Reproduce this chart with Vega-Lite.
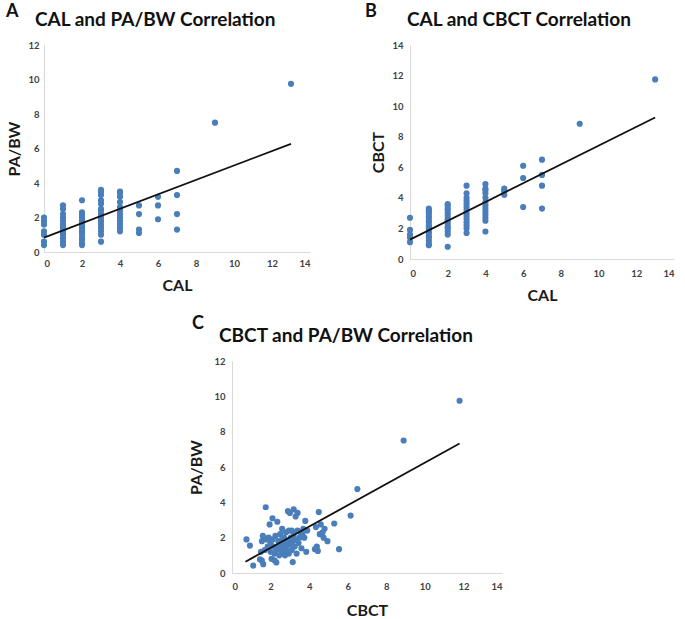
{
  "$schema": "https://vega.github.io/schema/vega-lite/v6.json",
  "padding": {"top": 3, "left": 5, "right": 5, "bottom": 2},
  "background": "white",
  "config": {
    "view": {"stroke": null},
    "font": "Lato",
    "axis": {
      "grid": false,
      "ticks": false,
      "tickSize": 0,
      "labelOverlap": false,
      "domainColor": "#d9d9d9",
      "domainWidth": 1,
      "labelFont": "Lato",
      "labelFontSize": 9.5,
      "labelFontWeight": "bold",
      "labelColor": "#404040",
      "titleFont": "Lato",
      "titleFontSize": 16,
      "titleFontWeight": "bold",
      "titleColor": "#1a1a1a"
    },
    "title": {
      "font": "Lato",
      "fontSize": 19,
      "fontWeight": "bold",
      "color": "#111111",
      "anchor": "start",
      "frame": "bounds",
      "offset": 10
    }
  },
  "datasets": {
    "a": [
      {"x":0,"y":0.4},{"x":0,"y":0.6},{"x":0,"y":1.0},{"x":0,"y":1.2},{"x":0,"y":1.6},{"x":0,"y":1.8},{"x":0,"y":2.0},
      {"x":1,"y":0.4},{"x":1,"y":0.6},{"x":1,"y":0.8},{"x":1,"y":1.0},{"x":1,"y":1.1},{"x":1,"y":1.2},{"x":1,"y":1.3},{"x":1,"y":1.4},{"x":1,"y":1.5},{"x":1,"y":1.6},{"x":1,"y":1.8},{"x":1,"y":2.0},{"x":1,"y":2.2},{"x":1,"y":2.5},{"x":1,"y":2.7},
      {"x":2,"y":0.4},{"x":2,"y":0.5},{"x":2,"y":0.7},{"x":2,"y":0.8},{"x":2,"y":1.0},{"x":2,"y":1.1},{"x":2,"y":1.2},{"x":2,"y":1.3},{"x":2,"y":1.4},{"x":2,"y":1.5},{"x":2,"y":1.6},{"x":2,"y":1.7},{"x":2,"y":1.8},{"x":2,"y":1.9},{"x":2,"y":2.0},{"x":2,"y":2.1},{"x":2,"y":2.2},{"x":2,"y":2.3},{"x":2,"y":3.0},
      {"x":3,"y":0.6},{"x":3,"y":1.0},{"x":3,"y":1.2},{"x":3,"y":1.4},{"x":3,"y":1.6},{"x":3,"y":1.8},{"x":3,"y":2.0},{"x":3,"y":2.2},{"x":3,"y":2.4},{"x":3,"y":2.5},{"x":3,"y":2.8},{"x":3,"y":3.0},{"x":3,"y":3.3},{"x":3,"y":3.5},{"x":3,"y":3.6},
      {"x":4,"y":1.2},{"x":4,"y":1.4},{"x":4,"y":1.6},{"x":4,"y":1.8},{"x":4,"y":2.0},{"x":4,"y":2.2},{"x":4,"y":2.4},{"x":4,"y":2.6},{"x":4,"y":2.9},{"x":4,"y":3.2},{"x":4,"y":3.4},{"x":4,"y":3.5},
      {"x":5,"y":1.1},{"x":5,"y":1.3},{"x":5,"y":2.2},{"x":5,"y":2.7},
      {"x":6,"y":1.9},{"x":6,"y":2.7},{"x":6,"y":3.2},
      {"x":7,"y":1.3},{"x":7,"y":2.2},{"x":7,"y":3.3},{"x":7,"y":4.7},
      {"x":9,"y":7.5},{"x":13,"y":9.75}
    ],
    "b": [
      {"x":0,"y":1.1},{"x":0,"y":1.4},{"x":0,"y":1.6},{"x":0,"y":1.9},{"x":0,"y":2.7},
      {"x":1,"y":0.9},{"x":1,"y":1.0},{"x":1,"y":1.2},{"x":1,"y":1.4},{"x":1,"y":1.5},{"x":1,"y":1.7},{"x":1,"y":1.8},{"x":1,"y":2.0},{"x":1,"y":2.1},{"x":1,"y":2.2},{"x":1,"y":2.4},{"x":1,"y":2.5},{"x":1,"y":2.7},{"x":1,"y":2.8},{"x":1,"y":3.0},{"x":1,"y":3.1},{"x":1,"y":3.2},{"x":1,"y":3.3},
      {"x":2,"y":0.8},{"x":2,"y":1.6},{"x":2,"y":1.8},{"x":2,"y":2.0},{"x":2,"y":2.1},{"x":2,"y":2.3},{"x":2,"y":2.5},{"x":2,"y":2.6},{"x":2,"y":2.8},{"x":2,"y":3.0},{"x":2,"y":3.2},{"x":2,"y":3.3},{"x":2,"y":3.5},{"x":2,"y":3.6},
      {"x":3,"y":1.7},{"x":3,"y":2.0},{"x":3,"y":2.2},{"x":3,"y":2.4},{"x":3,"y":2.6},{"x":3,"y":2.8},{"x":3,"y":3.0},{"x":3,"y":3.2},{"x":3,"y":3.4},{"x":3,"y":3.6},{"x":3,"y":3.8},{"x":3,"y":4.0},{"x":3,"y":4.3},{"x":3,"y":4.8},
      {"x":4,"y":1.8},{"x":4,"y":2.5},{"x":4,"y":2.7},{"x":4,"y":2.9},{"x":4,"y":3.1},{"x":4,"y":3.3},{"x":4,"y":3.5},{"x":4,"y":3.7},{"x":4,"y":4.0},{"x":4,"y":4.3},{"x":4,"y":4.5},{"x":4,"y":4.6},{"x":4,"y":4.9},
      {"x":5,"y":4.2},{"x":5,"y":4.4},{"x":5,"y":4.5},{"x":5,"y":4.6},
      {"x":6,"y":3.4},{"x":6,"y":5.3},{"x":6,"y":6.1},
      {"x":7,"y":3.3},{"x":7,"y":4.8},{"x":7,"y":5.5},{"x":7,"y":6.5},
      {"x":9,"y":8.85},{"x":13,"y":11.75}
    ],
    "c": [
      {"x":0.75,"y":1.9},{"x":0.93,"y":1.55},{"x":1.1,"y":0.42},{"x":1.45,"y":0.78},{"x":1.55,"y":0.7},{"x":1.62,"y":0.5},{"x":1.5,"y":1.2},{"x":1.55,"y":1.8},{"x":1.6,"y":2.1},{"x":1.7,"y":1.3},
      {"x":1.75,"y":3.72},{"x":1.8,"y":1.9},{"x":1.85,"y":1.5},{"x":1.9,"y":2.0},{"x":1.95,"y":2.75},{"x":2.0,"y":1.7},{"x":2.0,"y":1.2},{"x":2.05,"y":0.8},{"x":2.1,"y":3.1},{"x":2.1,"y":1.9},
      {"x":2.15,"y":1.5},{"x":2.2,"y":0.72},{"x":2.2,"y":1.1},{"x":2.25,"y":2.1},{"x":2.3,"y":1.3},{"x":2.3,"y":0.6},{"x":2.35,"y":2.9},{"x":2.4,"y":1.8},{"x":2.4,"y":1.5},{"x":2.45,"y":1.0},
      {"x":2.5,"y":2.2},{"x":2.5,"y":1.7},{"x":2.55,"y":1.3},{"x":2.6,"y":2.5},{"x":2.6,"y":1.9},{"x":2.6,"y":1.1},{"x":2.65,"y":1.5},{"x":2.7,"y":2.0},{"x":2.7,"y":1.3},{"x":2.75,"y":1.7},
      {"x":2.75,"y":1.0},{"x":2.8,"y":2.3},{"x":2.8,"y":1.45},{"x":2.85,"y":1.2},{"x":2.9,"y":3.5},{"x":2.9,"y":1.8},{"x":2.95,"y":2.4},{"x":2.95,"y":1.1},{"x":3.0,"y":1.6},{"x":3.0,"y":3.4},
      {"x":3.05,"y":2.0},{"x":3.1,"y":1.3},{"x":3.1,"y":2.4},{"x":3.15,"y":0.62},{"x":3.15,"y":1.8},{"x":3.2,"y":3.6},{"x":3.2,"y":2.2},{"x":3.25,"y":1.5},{"x":3.3,"y":3.2},{"x":3.3,"y":1.9},
      {"x":3.35,"y":1.1},{"x":3.4,"y":2.4},{"x":3.4,"y":3.4},{"x":3.45,"y":1.7},{"x":3.5,"y":2.0},{"x":3.55,"y":2.3},{"x":3.6,"y":1.4},{"x":3.65,"y":2.2},{"x":3.7,"y":2.5},{"x":3.75,"y":2.0},
      {"x":3.8,"y":2.95},{"x":3.85,"y":1.2},{"x":3.9,"y":2.4},{"x":4.3,"y":1.35},{"x":4.35,"y":2.6},{"x":4.4,"y":1.5},{"x":4.45,"y":1.25},{"x":4.5,"y":3.45},{"x":4.55,"y":2.2},{"x":4.6,"y":2.75},
      {"x":4.7,"y":2.3},{"x":4.75,"y":2.0},{"x":4.8,"y":2.5},{"x":4.95,"y":1.8},{"x":5.3,"y":2.8},{"x":5.55,"y":1.35},{"x":6.15,"y":3.25},{"x":6.5,"y":4.75},{"x":8.9,"y":7.5},{"x":11.8,"y":9.75}
    ],
    "la": [{"x":0,"y":0.83},{"x":13,"y":6.27}],
    "lb": [{"x":0,"y":1.27},{"x":13,"y":9.26}],
    "lc": [{"x":0.7,"y":0.64},{"x":11.8,"y":7.33}],
    "none": []
  },
  "vconcat": [
    {
      "hconcat": [
        {
          "title": {"text": "A", "fontSize": 18, "offset": -10, "dx": -1, "anchor": "start", "frame": "bounds"},
          "vconcat": [
            {
              "width": 266,
              "height": 207,
              "title": {"text": "CAL and PA/BW Correlation", "dx": 28, "anchor": "start", "frame": "bounds"},
              "encoding": {
                "x": {"field": "x", "type": "quantitative", "scale": {"domain": [0, 14], "nice": false}, "axis": {"title": "CAL", "values": [0,2,4,6,8,10,12,14], "labelOverlap": false, "labelPadding": 6, "titlePadding": 10}},
                "y": {"field": "y", "type": "quantitative", "scale": {"domain": [0, 12], "nice": false}, "axis": {"title": "PA/BW", "values": [0,2,4,6,8,10,12], "labelOverlap": false, "labelPadding": 5, "titlePadding": 5}}
              },
              "layer": [
                {"data": {"name": "a"}, "mark": {"type": "circle", "size": 38, "opacity": 1, "color": "#4A7EBB"}},
                {"data": {"name": "la"}, "mark": {"type": "line", "color": "#111111", "strokeWidth": 1.8}}
              ]
            }
          ]
        },
        {
          "title": {"text": "B", "fontSize": 18, "offset": -10, "dx": -6, "anchor": "start", "frame": "bounds"},
          "vconcat": [
            {
              "width": 264,
              "height": 214,
              "title": {"text": "CAL and CBCT Correlation", "dx": 36, "anchor": "start", "frame": "bounds"},
              "encoding": {
                "x": {"field": "x", "type": "quantitative", "scale": {"domain": [0, 14], "nice": false}, "axis": {"title": "CAL", "values": [0,2,4,6,8,10,12,14], "labelOverlap": false, "labelPadding": 9, "titlePadding": 10}},
                "y": {"field": "y", "type": "quantitative", "scale": {"domain": [0, 14], "nice": false}, "axis": {"title": "CBCT", "values": [0,2,4,6,8,10,12,14], "labelOverlap": false, "labelPadding": 7, "titlePadding": 5}}
              },
              "layer": [
                {"data": {"name": "b"}, "mark": {"type": "circle", "size": 38, "opacity": 1, "color": "#4A7EBB"}},
                {"data": {"name": "lb"}, "mark": {"type": "line", "color": "#111111", "strokeWidth": 1.8}}
              ]
            }
          ]
        }
      ],
      "spacing": 54
    },
    {
      "hconcat": [
        {
          "width": 144,
          "height": 10,
          "data": {"name": "none"},
          "mark": "point"
        },
        {
          "title": {"text": "C", "fontSize": 18, "offset": -6, "dx": 3, "anchor": "start", "frame": "bounds"},
          "vconcat": [
            {
              "width": 270,
              "height": 212,
              "title": {"text": "CBCT and PA/BW Correlation", "dx": 30, "anchor": "start", "frame": "bounds"},
              "encoding": {
                "x": {"field": "x", "type": "quantitative", "scale": {"domain": [0, 14], "nice": false}, "axis": {"title": "CBCT", "values": [0,2,4,6,8,10,12,14], "labelOverlap": false, "labelPadding": 8, "titlePadding": 12}},
                "y": {"field": "y", "type": "quantitative", "scale": {"domain": [0, 12], "nice": false}, "axis": {"title": "PA/BW", "values": [0,2,4,6,8,10,12], "labelOverlap": false, "labelPadding": 7, "titlePadding": 9}}
              },
              "layer": [
                {"data": {"name": "c"}, "mark": {"type": "circle", "size": 38, "opacity": 1, "color": "#4A7EBB"}},
                {"data": {"name": "lc"}, "mark": {"type": "line", "color": "#111111", "strokeWidth": 1.8}}
              ]
            }
          ]
        }
      ],
      "spacing": 0
    }
  ],
  "spacing": 11
}
